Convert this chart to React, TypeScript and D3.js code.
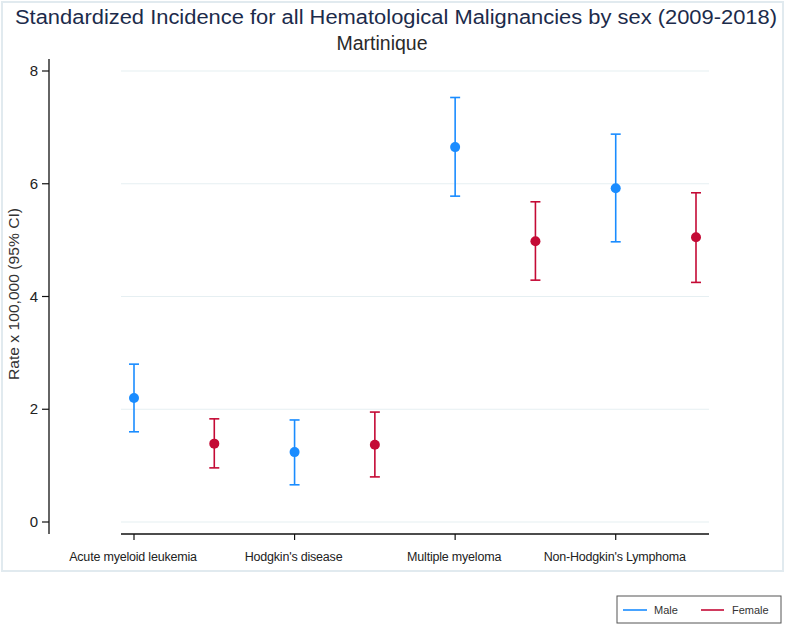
import React from "react";
import * as d3 from "d3";

const categories = ["Acute myeloid leukemia", "Hodgkin's disease", "Multiple myeloma", "Non-Hodgkin's Lymphoma"];
const maleRate = [2.2, 1.24, 6.65, 5.92];
const maleLow = [1.6, 0.66, 5.78, 4.97];
const maleHigh = [2.8, 1.81, 7.53, 6.88];
const femaleRate = [1.39, 1.37, 4.98, 5.05];
const femaleLow = [0.96, 0.8, 4.29, 4.25];
const femaleHigh = [1.83, 1.95, 5.68, 5.84];
const yTicks = [0, 2, 4, 6, 8];
const seriesNames = ["Male", "Female"];

const W = 786;
const H = 626;
const MALE = "#1a8cff";
const FEMALE = "#c40a35";
const FONT = "'Liberation Sans', Arial, sans-serif";

export default function App() {
  const y = d3.scaleLinear().domain([0, 8]).range([522, 71]);
  const x = d3.scaleLinear().domain([0, 7]).range([134, 696]);
  const plotLeft = 121;
  const plotRight = 709;
  const axisY = 534;
  const axisX = 49;

  const series = [
    { name: seriesNames[0], color: MALE, rate: maleRate, low: maleLow, high: maleHigh, off: 0 },
    { name: seriesNames[1], color: FEMALE, rate: femaleRate, low: femaleLow, high: femaleHigh, off: 1 },
  ];

  return (
    <svg width={W} height={H} style={{ position: "absolute", left: 0, top: 0, background: "#fff" }} fontFamily={FONT}>
      <rect x={0} y={0} width={W} height={H} fill="#fff" />
      <rect x={2} y={2} width={781} height={569} fill="none" stroke="#e1eaef" strokeWidth={2} />
      <text x={396} y={24} textAnchor="middle" fontSize={20} fill="#1c2b4b" textLength={762} lengthAdjust="spacingAndGlyphs">
        Standardized Incidence for all Hematological Malignancies by sex (2009-2018)
      </text>
      <text x={382} y={50} textAnchor="middle" fontSize={19.5} fill="#2a2a2a">
        Martinique
      </text>

      {/* grid */}
      {yTicks.map((t) => (
        <line key={"g" + t} x1={plotLeft} x2={plotRight} y1={y(t)} y2={y(t)} stroke="#e6eff2" strokeWidth={1.2} />
      ))}

      {/* y axis */}
      <line x1={axisX} x2={axisX} y1={59} y2={axisY} stroke="#111" strokeWidth={1.3} />
      {yTicks.map((t) => (
        <g key={"t" + t}>
          <line x1={42} x2={axisX} y1={y(t)} y2={y(t)} stroke="#111" strokeWidth={1.2} />
          <text x={38} y={y(t) + 5} textAnchor="end" fontSize={15} fill="#222">
            {t}
          </text>
        </g>
      ))}
      <text
        transform={`translate(19,294) rotate(-90)`}
        textAnchor="middle"
        fontSize={14}
        fill="#333"
        textLength={172}
        lengthAdjust="spacingAndGlyphs"
      >
        Rate x 100,000 (95% CI)
      </text>

      {/* x axis */}
      <line x1={plotLeft} x2={plotRight} y1={axisY} y2={axisY} stroke="#111" strokeWidth={1.3} />
      {categories.map((c, i) => (
        <g key={c}>
          <line x1={x(i * 2)} x2={x(i * 2)} y1={axisY} y2={axisY + 6} stroke="#111" strokeWidth={1.2} />
          <text x={x(i * 2) - 1} y={561} textAnchor="middle" fontSize={12.5} fill="#222" letterSpacing={-0.2}>
            {c}
          </text>
        </g>
      ))}

      {/* error bars and points */}
      {series.map((s) =>
        categories.map((c, i) => {
          const cx = x(i * 2 + s.off);
          return (
            <g key={s.name + c}>
              <line x1={cx} x2={cx} y1={y(s.low[i])} y2={y(s.high[i])} stroke={s.color} strokeWidth={1.6} />
              <line x1={cx - 5} x2={cx + 5} y1={y(s.low[i])} y2={y(s.low[i])} stroke={s.color} strokeWidth={1.6} />
              <line x1={cx - 5} x2={cx + 5} y1={y(s.high[i])} y2={y(s.high[i])} stroke={s.color} strokeWidth={1.6} />
              <circle cx={cx} cy={y(s.rate[i])} r={5} fill={s.color} />
            </g>
          );
        })
      )}

      {/* legend */}
      <rect x={617} y={596} width={164} height={27} fill="#fff" stroke="#555" strokeWidth={1} />
      <line x1={623} x2={647} y1={610} y2={610} stroke={MALE} strokeWidth={1.6} />
      <text x={654} y={614} fontSize={11} fill="#333">
        {seriesNames[0]}
      </text>
      <line x1={701} x2={724} y1={610} y2={610} stroke={FEMALE} strokeWidth={1.6} />
      <text x={732} y={614} fontSize={11} fill="#333">
        {seriesNames[1]}
      </text>
    </svg>
  );
}
